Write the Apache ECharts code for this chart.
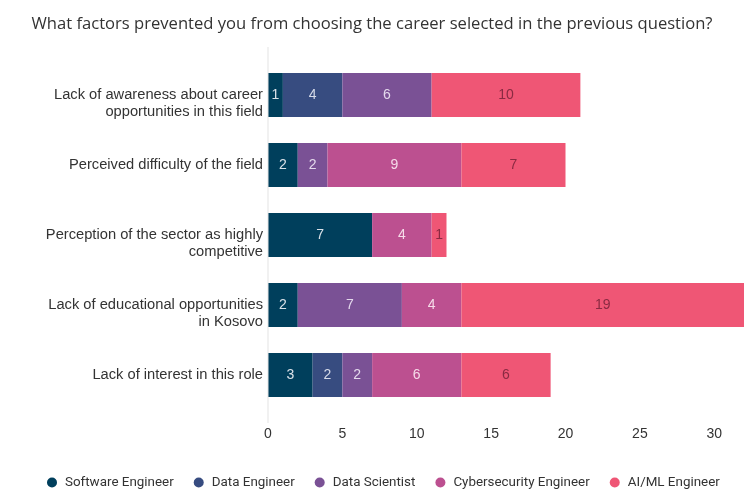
<!DOCTYPE html>
<html>
<head>
<meta charset="utf-8">
<script src="https://cdn.jsdelivr.net/npm/echarts@6/dist/echarts.min.js"></script>
<style>
  html, body { margin: 0; padding: 0; background: #fff; }
  #chart { width: 744px; height: 489px; }
</style>
</head>
<body>
<div id="chart"></div>
<script>
// Survey: reasons respondents did not pick their preferred career, by role
const reasons = [
  'Lack of awareness about career opportunities in this field',
  'Perceived difficulty of the field',
  'Perception of the sector as highly competitive',
  'Lack of educational opportunities in Kosovo',
  'Lack of interest in this role'
];
const roles = ['Software Engineer', 'Data Engineer', 'Data Scientist', 'Cybersecurity Engineer', 'AI/ML Engineer'];

const softwareEngineer = [1, 2, 7, 2, 3];
const dataEngineer = [4, null, null, null, 2];
const dataScientist = [6, 2, null, 7, 2];
const cybersecurityEngineer = [null, 9, 4, 4, 6];
const aiMlEngineer = [10, 7, 1, 19, 6];

const xTicks = [0, 5, 10, 15, 20, 25, 30];

const seriesValues = [softwareEngineer, dataEngineer, dataScientist, cybersecurityEngineer, aiMlEngineer];
const roleColors = ['#003f5c', '#374c80', '#7a5195', '#bc5090', '#ef5675'];
const labelColors = ['#d9e1e8', '#d6dbe9', '#e4d9ec', '#f6dbe9', '#8a2a42'];

const GRID_TOP = 60, GRID_BOTTOM = 79, GRID_LEFT = 268;
const CAT_SIZE = 14.7;
const CAT_WRAP = 223;

// Word-wrap a category name; wrapped names start on the tick line and flow downward
const measureCtx = document.createElement('canvas').getContext('2d');
measureCtx.font = CAT_SIZE + 'px "Liberation Sans"';
function wrapLabel(text) {
  const words = text.split(' ');
  const lines = [];
  let cur = '';
  words.forEach(function (w) {
    const next = cur ? cur + ' ' + w : w;
    if (cur && measureCtx.measureText(next).width > CAT_WRAP) {
      lines.push(cur);
      cur = w;
    } else {
      cur = next;
    }
  });
  lines.push(cur);
  return lines.length > 1 ? '\n' + lines.join('\n') : lines[0];
}

const chart = echarts.init(document.getElementById('chart'), null, { renderer: 'canvas' });

const option = {
  backgroundColor: '#ffffff',
  animation: false,
  title: {
    text: 'What factors prevented you from choosing the career selected in the previous question?',
    left: 'center',
    top: 11,
    textStyle: { fontFamily: 'Open Sans', fontSize: 16.6, fontWeight: 'normal', color: '#333333' }
  },
  legend: {
    data: roles,
    left: 42,
    top: 471,
    icon: 'circle',
    itemWidth: 10,
    itemHeight: 10,
    itemGap: 20,
    textStyle: { fontFamily: 'Roboto', fontSize: 13.4, color: '#333333', padding: [0, 0, 0, 3] }
  },
  grid: { left: GRID_LEFT, right: -2, top: GRID_TOP, bottom: GRID_BOTTOM },
  xAxis: {
    type: 'value',
    min: 0,
    max: 32,
    interval: 5,
    axisLine: { show: false },
    axisTick: { show: false },
    splitLine: { show: false },
    axisLabel: {
      margin: 17,
      showMaxLabel: false,
      fontFamily: 'Liberation Sans',
      fontSize: 14,
      color: '#333333',
      formatter: function (v) { return xTicks.indexOf(v) >= 0 ? String(v) : ''; }
    }
  },
  yAxis: {
    type: 'category',
    inverse: true,
    data: reasons,
    axisLine: { show: false },
    axisTick: { show: false },
    axisLabel: {
      margin: 5,
      lineHeight: 16.5,
      align: 'right',
      fontFamily: 'Liberation Sans',
      fontSize: CAT_SIZE,
      color: '#333333',
      formatter: wrapLabel
    }
  },
  series: roles.map(function (name, i) {
    return {
      name: name,
      type: 'bar',
      stack: 'total',
      barWidth: 44,
      data: seriesValues[i],
      itemStyle: { color: roleColors[i] },
      label: {
        show: true,
        position: 'inside',
        fontFamily: 'Liberation Sans',
        fontSize: 14,
        color: labelColors[i]
      },
      emphasis: { disabled: true }
    };
  })
};

chart.setOption(option);

// Vertical baseline at x = 0, running a little past the plot area at both ends
const zeroX = chart.convertToPixel({ gridIndex: 0 }, [0, 0])[0];
const plotBottom = chart.getHeight() - GRID_BOTTOM;
chart.setOption({
  graphic: [{
    type: 'line',
    z: 100,
    shape: { x1: zeroX, y1: GRID_TOP - 13, x2: zeroX, y2: plotBottom + 13 },
    style: { stroke: '#e3e3e3', lineWidth: 1 }
  }]
});
</script>
</body>
</html>
